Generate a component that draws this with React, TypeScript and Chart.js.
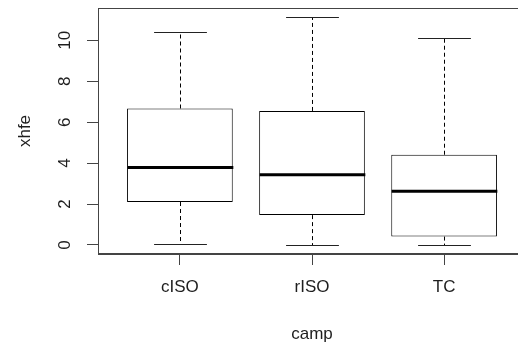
import React, { useEffect, useRef } from "react";
import { Chart, registerables } from "chart.js";

Chart.register(...registerables);

// ---- data ----
const categories = ["cISO", "rISO", "TC"];
const whiskerLow = [0.06, 0.0, 0.0];
const quartile1 = [2.1, 1.46, 0.41];
const medians = [3.79, 3.43, 2.62];
const quartile3 = [6.67, 6.55, 4.41];
const whiskerHigh = [10.4, 11.14, 10.13];
const yTickValues = [0, 2, 4, 6, 8, 10];
const xTitle = "camp";
const yTitle = "xhfe";

// ---- style constants ----
const BOX_WIDTH = 0.8; // in x-axis units (R boxwex)
const CAP_WIDTH = 0.4; // in x-axis units (R staplewex * boxwex)
const FONT = { family: "'Liberation Sans', Arial, sans-serif", size: 17 };
const TEXT_COLOR = "#1e1e1e";
const AXIS_COLOR = "#444";

const boxWhiskerPlugin = {
  id: "boxWhisker",
  afterDatasetsDraw(chart: any) {
    const { ctx, scales } = chart;
    const xs = scales.x;
    const ys = scales.y;
    const line = (x1: number, y1: number, x2: number, y2: number) => {
      ctx.beginPath();
      ctx.moveTo(x1, y1);
      ctx.lineTo(x2, y2);
      ctx.stroke();
    };
    ctx.save();
    ctx.strokeStyle = "#000";
    categories.forEach((_, i) => {
      const cx = Math.round(xs.getPixelForValue(i + 1)) + 0.5;
      const capHalf = xs.getPixelForValue(i + 1 + CAP_WIDTH / 2) - xs.getPixelForValue(i + 1);
      const boxHalf = xs.getPixelForValue(i + 1 + BOX_WIDTH / 2) - xs.getPixelForValue(i + 1);
      const yHi = Math.round(ys.getPixelForValue(whiskerHigh[i])) + 0.5;
      const yLo = Math.round(ys.getPixelForValue(whiskerLow[i])) + 0.5;
      const yQ1 = ys.getPixelForValue(quartile1[i]);
      const yQ3 = ys.getPixelForValue(quartile3[i]);
      const yMed = ys.getPixelForValue(medians[i]);
      // dashed whiskers
      ctx.strokeStyle = "#000";
      ctx.lineWidth = 1;
      ctx.setLineDash([4, 3]);
      line(cx, yQ3, cx, yHi);
      line(cx, yQ1, cx, yLo);
      ctx.setLineDash([]);
      // staples
      ctx.strokeStyle = "#222";
      line(cx - capHalf, yHi, cx + capHalf, yHi);
      line(cx - capHalf, yLo, cx + capHalf, yLo);
      // median
      ctx.strokeStyle = "#000";
      ctx.lineWidth = 3;
      line(cx - boxHalf, yMed, cx + boxHalf, yMed);
    });
    ctx.restore();
  },
  afterDraw(chart: any) {
    const { ctx, chartArea } = chart;
    ctx.save();
    ctx.strokeStyle = AXIS_COLOR;
    ctx.lineWidth = 1;
    const l = Math.round(chartArea.left) + 0.5;
    const t = Math.round(chartArea.top) + 0.5;
    const r = Math.round(chartArea.right) - 0.5;
    const b = Math.round(chartArea.bottom) - 0.5;
    ctx.strokeRect(l, t, r - l, b - t);
    ctx.restore();
  },
};

export default function App() {
  const canvasRef = useRef<HTMLCanvasElement | null>(null);

  useEffect(() => {
    const canvas = canvasRef.current;
    if (!canvas) return;
    const chart = new Chart(canvas, {
      type: "bar",
      data: {
        datasets: [
          {
            label: "IQR",
            data: categories.map((_, i) => ({ x: i + 1, y: [quartile1[i], quartile3[i]] })) as any,
            backgroundColor: "#ffffff",
            borderColor: "#000000",
            borderWidth: 1,
            borderSkipped: false,
            categoryPercentage: 1,
            barPercentage: BOX_WIDTH,
          },
        ],
      },
      plugins: [boxWhiskerPlugin],
      options: {
        animation: false,
        responsive: false,
        devicePixelRatio: 1,
        layout: { padding: { top: 8, right: 2, left: 0, bottom: 0 } },
        plugins: {
          legend: { display: false },
          tooltip: { enabled: false },
        },
        scales: {
          x: {
            type: "linear",
            min: 0.38,
            max: 3.62,
            offset: false,
            afterBuildTicks: (s: any) => {
              s.ticks = categories.map((_, i) => ({ value: i + 1 }));
            },
            afterFit: (s: any) => {
              s.height = 93;
              s.paddingLeft = 0;
              s.paddingRight = 0;
            },
            ticks: {
              autoSkip: false,
              maxRotation: 0,
              minRotation: 0,
              padding: 12,
              color: TEXT_COLOR,
              font: FONT,
              callback: (v: any) => categories[Number(v) - 1] ?? "",
            },
            grid: {
              display: true,
              offset: false,
              drawOnChartArea: false,
              drawTicks: true,
              tickLength: 11,
              color: AXIS_COLOR,
            },
            border: { display: true, color: AXIS_COLOR },
            title: {
              display: true,
              text: xTitle,
              color: TEXT_COLOR,
              font: FONT,
              padding: { top: 0, bottom: 2 },
            },
          },
          y: {
            type: "linear",
            min: -0.44,
            max: 11.58,
            afterBuildTicks: (s: any) => {
              s.ticks = yTickValues.map((v) => ({ value: v }));
            },
            afterFit: (s: any) => {
              s.width = 98;
              s.paddingTop = 0;
              s.paddingBottom = 0;
            },
            ticks: {
              minRotation: 90,
              maxRotation: 90,
              crossAlign: "center",
              padding: 12,
              color: TEXT_COLOR,
              font: FONT,
            },
            grid: {
              display: true,
              drawOnChartArea: false,
              drawTicks: true,
              tickLength: 11,
              color: AXIS_COLOR,
            },
            border: { display: true, color: AXIS_COLOR },
            title: {
              display: true,
              text: yTitle,
              color: TEXT_COLOR,
              font: FONT,
              padding: { top: 15, bottom: 0 },
            },
          },
        },
      } as any,
    });
    return () => chart.destroy();
  }, []);

  return (
    <div
      style={{
        position: "fixed",
        left: 0,
        top: 0,
        width: 518,
        height: 347,
        overflow: "hidden",
        background: "#ffffff",
      }}
    >
      <canvas ref={canvasRef} width={528} height={347} style={{ display: "block" }} />
    </div>
  );
}
